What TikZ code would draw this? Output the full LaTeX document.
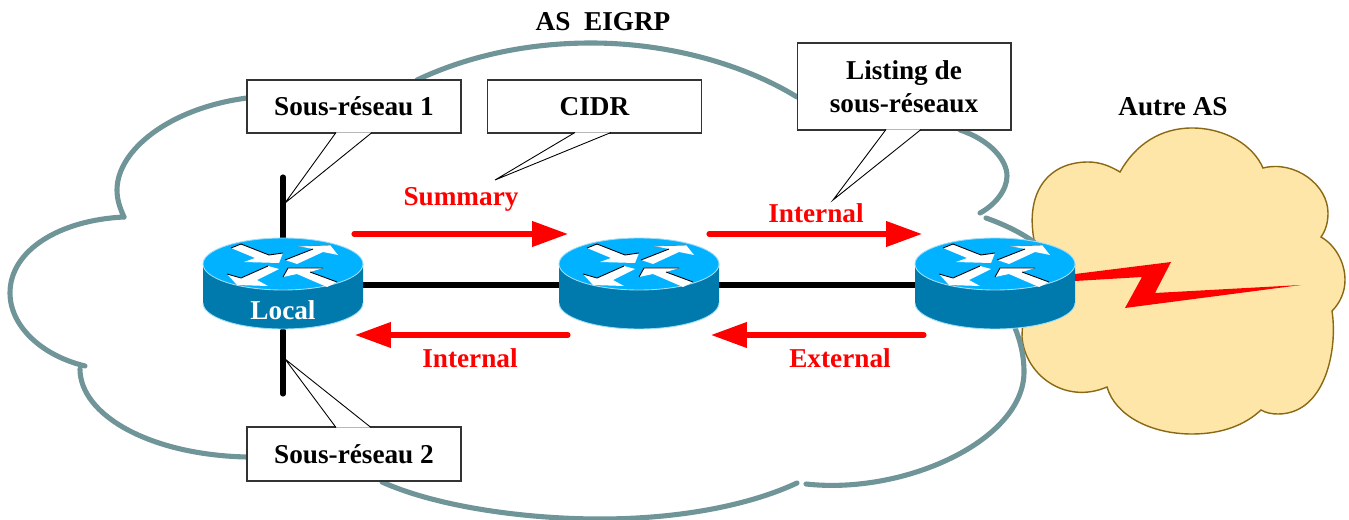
\documentclass[tikz,border=0pt]{standalone}
\usepackage{fontspec}
\setmainfont{Liberation Serif}
\usetikzlibrary{arrows.meta}
\definecolor{cloudgray}{HTML}{6F9599}
\definecolor{cloudfill}{HTML}{FDE6A8}
\definecolor{cloudedge}{HTML}{8B6914}
\definecolor{routertop}{HTML}{00B2FF}
\definecolor{routerside}{HTML}{0079AC}
\definecolor{routerrim}{HTML}{9FDCF5}
\tikzset{
  wire/.style={line width=2.9pt,line cap=round},
  flow/.style={red,line width=2.9pt,line cap=round,-{Triangle[length=20.4pt,width=14pt]}},
  border/.style={cloudgray,line width=2.9pt,line cap=round},
  tag/.style={draw=black!80,fill=white,line width=0.6pt,minimum width=4.28cm,font=\bfseries\fontsize{15.5}{19}\selectfont,align=center,inner sep=0pt,outer sep=0pt},
  tail/.style={fill=white,line width=0.5pt},
  lab/.style={red,font=\bfseries\fontsize{15.5}{19}\selectfont,inner sep=0pt},
  title/.style={black,font=\bfseries\fontsize{15.5}{19}\selectfont,inner sep=0pt},
  routerbody/.style={minimum width=3.2cm,minimum height=1.82cm,inner sep=0pt,outer sep=0pt},
  router/.pic={
    \fill[routerside] (-80,0) -- (-80,39) arc[start angle=180,end angle=0,x radius=80,y radius=26] -- (80,0) -- cycle;
    \draw[routerrim,line width=0.5pt] (-80,39) arc[start angle=180,end angle=0,x radius=80,y radius=26];
    \draw[routerrim,fill=routertop,line width=0.5pt] (0,0) ellipse[x radius=80,y radius=26];
    % four arrows on the lid
    \fill[white] (-52,-16) -- (-42,-20) -- (-14,-9) -- (0,-11) -- (-4,-1) -- (-39,-2) -- (-28,-6) -- cycle;
    \fill[white] (2,-4) -- (30,-15) -- (15,-18) -- (47,-19) -- (55,-9) -- (40,-12) -- (14,0) -- cycle;
    \fill[white] (-4,5) -- (-15,2) -- (-42,14) -- (-56,10) -- (-46,21) -- (-15,22) -- (-26,16) -- cycle;
    \fill[white] (0,13) -- (5,4) -- (40,4) -- (27,8) -- (54,18) -- (44,23) -- (14,10) -- cycle;
    \draw[line width=0.5pt] (-52,-16) -- (-42,-20) -- (-14,-9) (0,-11) -- (-14,-9) (2,-4) -- (30,-15);
    \draw[line width=0.5pt] (-15,2) -- (-42,14) -- (-56,10) (0,13) -- (5,4) -- (40,4) (27,8) -- (54,18);
    \draw[black!50,line width=0.5pt] (15,-18) -- (47,-19);
  }
}
\begin{document}
\begin{tikzpicture}[x=0.02cm,y=-0.02cm]
\useasboundingbox (0,0) rectangle (1349,520);

% other AS
\draw[cloudedge,fill=cloudfill,line width=0.8pt] (1120,172)
  .. controls (1135,145) and (1160,128) .. (1192,128)
  .. controls (1225,128) and (1253,145) .. (1263,168)
  .. controls (1295,160) and (1328,185) .. (1328,213)
  .. controls (1328,222) and (1326,230) .. (1321,237)
  .. controls (1335,245) and (1345,262) .. (1345,280)
  .. controls (1345,292) and (1340,303) .. (1332,311)
  .. controls (1338,350) and (1325,414) .. (1278,414)
  .. controls (1272,414) and (1266,413) .. (1261,410)
  .. controls (1245,425) and (1222,434) .. (1192,434)
  .. controls (1150,434) and (1115,415) .. (1107,387)
  .. controls (1065,405) and (1025,375) .. (1022,337)
  .. controls (1022,320) and (1030,260) .. (1034,240)
  .. controls (1025,190) and (1050,162) .. (1088,162)
  .. controls (1100,162) and (1110,166) .. (1120,172) -- cycle;

% big cloud
\draw[border] (247,98) .. controls (170,108) and (117,150) .. (117,190) .. controls (117,200) and (120,208) .. (124,217);
\draw[border] (124,217) .. controls (60,220) and (10,250) .. (10,293) .. controls (10,325) and (40,355) .. (85,366);
\draw[border] (80,369) .. controls (80,415) and (150,455) .. (247,457);
\draw[border] (382,482) .. controls (440,508) and (530,519) .. (600,519) .. controls (680,519) and (750,505) .. (797,483);
\draw[border] (806,484) .. controls (905,495) and (1024,440) .. (1024,372) .. controls (1024,355) and (1020,340) .. (1015,328);
\draw[border] (986,218) .. controls (1003,224) and (1020,232) .. (1034,242);
\draw[border] (960,130) .. controls (990,140) and (1007,160) .. (1007,176) .. controls (1007,190) and (995,205) .. (980,213);
\draw[border] (417,80) .. controls (470,55) and (530,43) .. (591,43) .. controls (670,43) and (745,65) .. (797,97);

\node[routerbody] (rlocal) at (283,285) {};
\node[routerbody] (rmid) at (639,285) {};
\node[routerbody] (rext) at (995,285) {};

% wires
\coordinate (wiretop) at (283,177);
\coordinate (wirebot) at (283,394);
\draw[wire] (rlocal.north) -- (wiretop);
\draw[wire] (rlocal.south) -- (wirebot);
\draw[wire] (rlocal.east) -- (rmid.west);
\draw[wire] (rmid.east) -- (rext.west);

\pic at (283,264) {router};
\pic at (639,264) {router};
\pic at (995,264) {router};
\node[white,font=\bfseries\fontsize{15.5}{19}\selectfont,inner sep=0pt] (loc) at (283,310) {Local};

% bolt
\fill[red] (1075,274) -- (1171,262) -- (1155,293) -- (1301,285) -- (1125,308) -- (1142,277) -- (1075,281) -- cycle;

% callouts
\node[tag,minimum height=1.06cm] (sub1) at (354,106.5) {Sous-réseau 1};
\node[tag,minimum height=1.08cm] (sub2) at (354,454) {Sous-réseau 2};
\node[tag,minimum height=1.06cm] (cidr) at (594.5,106.5) {CIDR};
\node[tag,minimum height=1.74cm] (list) at (904,86.5) {Listing de\\sous-réseaux};
\coordinate (sub1tip) at (285,203);
\coordinate (sub2tip) at (285,359);
\coordinate (cidrtip) at (495,180);
\coordinate (listtip) at (833,200);
\draw[tail] (336,132.5) -- (sub1tip) -- (372,132.5);
\draw[tail] (336,427.5) -- (sub2tip) -- (371,427.5);
\draw[tail] (575,132.5) -- (cidrtip) -- (611,132.5);
\draw[tail] (886,129.5) -- (listtip) -- (921,129.5);

% flows
\coordinate (fa) at (354,234); \coordinate (fb) at (568,234);
\coordinate (fc) at (709,234); \coordinate (fd) at (922,234);
\coordinate (fe) at (568,335); \coordinate (ff) at (355,335);
\coordinate (fg) at (924,335); \coordinate (fh) at (711,335);
\draw[flow] (fa) -- (fb);
\draw[flow] (fc) -- (fd);
\draw[flow] (fe) -- (ff);
\draw[flow] (fg) -- (fh);

\node[lab] (sum) at (461,199) {Summary};
\node[lab] (inta) at (816,213) {Internal};
\node[lab] (intb) at (470,358) {Internal};
\node[lab] (ext) at (840,358) {External};
\node[title] (eigrp) at (603,22) {AS\ \ EIGRP};
\node[title] (other) at (1173,107) {Autre AS};
\end{tikzpicture}
\end{document}
